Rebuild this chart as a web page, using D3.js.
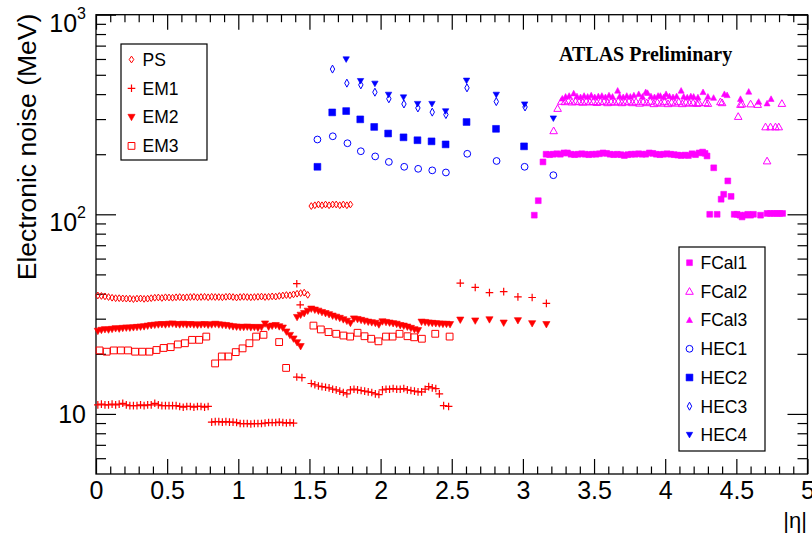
<!DOCTYPE html>
<html>
<head>
<meta charset="utf-8">
<script src="https://cdn.jsdelivr.net/npm/d3@7"></script>
<style>
  body { margin: 0; background: #fff; }
  svg { display: block; font-family: "Liberation Sans", Arial, sans-serif; }
</style>
</head>
<body>
<svg id="chart" width="812" height="537"></svg>
<script>
// axis ticks
const xMajorTicks = [0, 0.5, 1, 1.5, 2, 2.5, 3, 3.5, 4, 4.5, 5];
const xMinorTicks = [0.1,0.2,0.3,0.4,0.6,0.7,0.8,0.9,1.1,1.2,1.3,1.4,1.6,1.7,1.8,1.9,2.1,2.2,2.3,2.4,
  2.6,2.7,2.8,2.9,3.1,3.2,3.3,3.4,3.6,3.7,3.8,3.9,4.1,4.2,4.3,4.4,4.6,4.7,4.8,4.9];
const yMajorTicks = [10, 100, 1000];
const yMinorTicks = [6,7,8,9,20,30,40,50,60,70,80,90,200,300,400,500,600,700,800,900];

// noise per layer, [|eta|, MeV]
const psData = [
  [0.013,39.2],[0.038,39.0],[0.063,38.8],[0.088,38.5],[0.113,38.2],[0.138,38.0],[0.163,38.0],[0.188,37.9],
  [0.213,37.8],[0.238,37.8],[0.263,37.6],[0.288,37.8],[0.313,37.9],[0.338,37.7],[0.363,37.8],[0.388,38.0],
  [0.413,38.2],[0.438,38.3],[0.463,38.1],[0.488,38.4],[0.513,38.3],[0.538,38.2],[0.563,38.4],[0.588,38.5],
  [0.613,38.3],[0.638,38.4],[0.663,38.5],[0.688,38.6],[0.713,38.4],[0.738,38.5],[0.763,38.6],[0.788,38.4],
  [0.813,38.6],[0.838,38.5],[0.863,38.5],[0.888,38.4],[0.913,38.6],[0.938,38.7],[0.963,38.5],[0.988,38.3],
  [1.013,38.5],[1.038,38.6],[1.063,38.5],[1.088,38.4],[1.113,38.5],[1.138,38.6],[1.163,38.7],[1.188,38.5],
  [1.213,38.6],[1.238,38.8],[1.263,38.7],[1.288,39.0],[1.313,39.2],[1.338,39.4],[1.363,39.3],[1.388,39.7],
  [1.413,40.0],[1.438,40.3],[1.463,40.5],[1.488,39.5],
  [1.513,110],[1.538,111],[1.563,112],[1.588,111],[1.613,112],[1.638,111],[1.663,112],[1.688,112],
  [1.713,111],[1.738,112],[1.763,111],[1.788,112]
];

const em1Data = [
  [0.013,11.1],[0.038,11.2],[0.063,11.1],[0.088,11.1],[0.113,11.2],[0.138,11.1],[0.163,11.2],[0.188,11.3],
  [0.213,11.1],[0.238,11.0],[0.263,11.0],[0.288,11.0],[0.313,11.1],[0.338,11.0],[0.363,11.1],[0.388,11.1],
  [0.413,11.3],[0.438,11.1],[0.463,11.0],[0.488,11.0],[0.513,11.0],[0.538,11.0],[0.563,11.0],[0.588,10.9],
  [0.613,10.8],[0.638,10.9],[0.663,10.9],[0.688,10.8],[0.713,10.9],[0.738,10.9],[0.763,10.8],[0.788,10.9],
  [0.813,9.1],[0.838,9.15],[0.863,9.15],[0.888,9.1],[0.913,9.15],[0.938,9.1],[0.963,9.1],[0.988,9.05],
  [1.013,8.95],[1.038,8.95],[1.063,8.95],[1.088,8.9],[1.113,8.95],[1.138,8.95],[1.163,8.95],[1.188,9.0],
  [1.213,9.05],[1.238,9.05],[1.263,9.05],[1.288,9.1],[1.313,9.05],[1.338,9.0],[1.363,9.05],[1.388,9.0],
  [1.411,44.9],[1.435,35.2],[1.411,15.3],[1.447,15.2],
  [1.513,14.2],[1.538,14.0],[1.563,13.8],[1.588,13.7],[1.613,13.6],[1.638,13.5],[1.663,13.3],[1.688,13.2],
  [1.713,13.0],[1.738,12.8],[1.763,12.6],[1.788,13.2],[1.813,13.3],[1.838,13.2],[1.863,13.1],[1.888,13.0],
  [1.913,12.9],[1.938,12.8],[1.963,12.6],[1.988,12.5],[2.013,13.2],[2.038,13.3],[2.063,13.3],[2.088,13.4],
  [2.113,13.3],[2.138,13.3],[2.163,13.4],[2.188,13.2],[2.213,13.1],[2.238,13.0],[2.263,12.9],[2.288,12.9],
  [2.313,13.3],[2.338,13.7],[2.363,13.5],[2.388,13.4],[2.413,12.6],[2.443,11.0],[2.478,10.9],
  [2.56,45.2],[2.665,43.0],[2.765,40.5],[2.865,41.0],[2.965,38.6],[3.065,38.3],[3.165,35.8]
];

const em2Data = [
  [0.013,26.0],[0.038,26.3],[0.063,26.5],[0.088,26.4],[0.113,26.6],[0.138,26.8],[0.163,26.7],[0.188,26.9],
  [0.213,27.0],[0.238,27.0],[0.263,27.1],[0.288,27.2],[0.313,27.3],[0.338,27.4],[0.363,27.6],[0.388,27.8],
  [0.413,27.9],[0.438,28.0],[0.463,28.1],[0.488,28.0],[0.513,28.2],[0.538,28.3],[0.563,28.1],[0.588,28.0],
  [0.613,28.2],[0.638,28.0],[0.663,28.1],[0.688,28.0],[0.713,27.9],[0.738,28.0],[0.763,28.1],[0.788,27.9],
  [0.813,28.0],[0.838,28.2],[0.863,28.0],[0.888,27.9],[0.913,27.8],[0.938,27.6],[0.963,27.4],[0.988,27.3],
  [1.013,27.2],[1.038,27.2],[1.063,27.3],[1.088,27.1],[1.113,27.2],[1.138,27.0],[1.163,27.2],[1.188,28.3],
  [1.213,27.3],[1.238,27.6],[1.263,27.8],[1.288,27.4],[1.313,27.0],[1.338,25.8],[1.363,24.8],[1.388,23.8],
  [1.413,22.8],[1.438,21.8],
  [1.413,30.5],[1.438,31.3],[1.463,31.9],[1.488,32.8],[1.513,33.6],[1.538,33.2],[1.563,32.8],[1.588,32.3],
  [1.613,31.9],[1.638,31.5],[1.663,31.0],[1.688,30.6],[1.713,30.2],[1.738,29.7],[1.763,29.2],[1.788,28.5],
  [1.813,30.0],[1.838,29.8],[1.863,29.5],[1.888,29.2],[1.913,28.9],[1.938,28.7],[1.963,28.5],[1.988,28.0],
  [2.013,29.0],[2.038,28.8],[2.063,28.6],[2.088,28.4],[2.113,28.2],[2.138,27.8],[2.163,27.6],[2.188,27.3],
  [2.213,26.9],[2.238,26.5],[2.263,26.2],[2.288,28.9],[2.313,28.8],[2.338,28.6],[2.363,28.5],[2.388,28.4],
  [2.413,28.3],[2.438,28.2],[2.463,28.2],[2.488,28.1],
  [2.56,29.6],[2.665,29.3],[2.765,29.7],[2.865,28.6],[2.965,29.4],[3.065,28.4],[3.165,28.1]
];

const em3Data = [
  [0.025,20.8],[0.075,20.5],[0.125,20.8],[0.175,20.8],[0.225,20.8],[0.275,20.5],[0.325,20.5],[0.375,20.5],
  [0.425,20.9],[0.475,21.4],[0.525,21.6],[0.575,22.3],[0.625,22.6],[0.675,23.5],[0.725,23.5],[0.775,24.4],
  [0.837,17.9],[0.884,19.4],[0.93,19.4],[0.982,20.4],[1.03,21.3],[1.078,22.6],[1.125,24.4],[1.177,24.9],
  [1.287,22.9],[1.336,17.0],
  [1.528,27.7],[1.58,26.5],[1.634,25.7],[1.688,25.2],[1.739,24.7],[1.786,24.4],[1.838,25.5],[1.887,24.5],
  [1.934,23.8],[1.985,23.1],[2.038,24.4],[2.084,24.4],[2.133,25.2],[2.189,24.5],[2.236,24.2],[2.29,23.8],
  [2.384,25.2],[2.485,24.4]
];

const fcal1Data = [
  [3.08,99],[3.108,117],[3.141,183],
  [3.163,200],[3.188,199],[3.213,200],[3.238,201],[3.263,200],[3.288,203],[3.313,203],[3.338,200],
  [3.363,199],[3.388,200],[3.413,201],[3.438,200],[3.463,199],[3.488,200],[3.513,200],[3.538,201],
  [3.563,203],[3.588,202],[3.613,200],[3.638,199],[3.663,200],[3.688,199],[3.713,197],[3.738,199],
  [3.763,200],[3.788,200],[3.813,201],[3.838,200],[3.863,200],[3.888,203],[3.913,202],[3.938,200],
  [3.963,199],[3.988,200],[4.013,201],[4.038,200],[4.063,199],[4.088,198],[4.113,197],[4.138,198],
  [4.163,197],[4.188,201],[4.213,199],[4.238,203],
  [4.263,205],[4.28,202],[4.294,196],[4.313,100],[4.341,171],[4.365,100],[4.393,119],[4.411,126],
  [4.44,147],[4.463,123],[4.485,100],[4.505,100],[4.525,99],[4.54,97],[4.56,99],[4.58,100],
  [4.60,99],[4.62,100],[4.67,99],[4.716,101],[4.74,101],[4.762,101],[4.785,101],[4.805,101],[4.825,101]
];

const fcal2Data = [
  [3.216,262],[3.244,339],
  [3.27,368],[3.295,366],[3.32,370],[3.345,365],[3.37,368],[3.395,366],[3.42,364],[3.445,368],
  [3.47,365],[3.495,367],[3.52,363],[3.545,366],[3.57,368],[3.595,362],[3.62,366],[3.645,364],
  [3.67,368],[3.695,362],[3.72,365],[3.745,368],[3.77,362],[3.795,366],[3.82,360],[3.845,366],
  [3.87,362],[3.895,368],[3.92,358],[3.945,364],[3.97,360],[3.995,366],[4.02,358],[4.045,364],
  [4.07,360],[4.095,366],[4.12,358],[4.145,364],[4.17,360],[4.196,362],[4.224,359],[4.236,362],
  [4.283,362],[4.30,359],[4.388,366],[4.40,362],
  [4.513,309],[4.529,355],[4.54,357],[4.6,357],[4.65,355],[4.705,274],[4.716,185],[4.74,274],
  [4.775,274],[4.798,274],[4.82,359]
];

const fcal3Data = [
  [3.277,380],[3.30,388],[3.325,392],[3.357,403],[3.38,390],[3.405,386],[3.43,392],[3.455,388],
  [3.48,394],[3.505,386],[3.53,390],[3.555,392],[3.58,386],[3.605,394],[3.63,388],[3.666,416],
  [3.68,390],[3.705,386],[3.73,392],[3.755,388],[3.78,394],[3.814,400],[3.84,388],[3.863,409],
  [3.876,405],[3.9,390],[3.925,386],[3.95,392],[3.966,392],[3.99,386],[4.006,400],[4.03,390],
  [4.055,386],[4.08,390],[4.112,416],[4.13,388],[4.155,385],[4.18,390],[4.2,388],[4.23,385],
  [4.266,409],[4.30,388],[4.34,383],[4.416,400],[4.435,395],[4.529,378],[4.587,411],[4.657,366],
  [4.716,359],[4.744,378]
];

const hec1Data = [[1.556,237],[1.664,246],[1.767,227],[1.861,207],[1.962,195],[2.058,183],[2.166,173],
  [2.264,169],[2.363,166],[2.459,162],[2.609,201],[2.815,185],[3.012,173],[3.214,157]];
const hec2Data = [[1.556,173],[1.66,324],[1.758,329],[1.857,299],[1.955,274],[2.053,254],[2.161,243],
  [2.259,235],[2.358,232],[2.457,224],[2.604,290],[2.811,268],[3.008,219]];
const hec3Data = [[1.662,534],[1.763,454],[1.861,445],[1.96,409],[2.058,379],[2.164,357],[2.262,341],
  [2.363,325],[2.459,316],[2.607,430],[2.813,367],[3.015,345]];
const hec4Data = [[1.758,597],[1.859,465],[1.96,451],[2.056,397],[2.161,385],[2.26,357],[2.361,357],
  [2.457,328],[2.604,467],[2.813,397],[3.012,355],[3.214,302]];

// drawing style for each layer
const series = [
  { name: 'PS',    data: psData,    marker: 'diamond',  color: '#ff0000', legend: 1 },
  { name: 'EM1',   data: em1Data,   marker: 'plus',     color: '#ff0000', legend: 1 },
  { name: 'EM2',   data: em2Data,   marker: 'triDown',  color: '#ff0000', legend: 1 },
  { name: 'EM3',   data: em3Data,   marker: 'squareO',  color: '#ff0000', legend: 1 },
  { name: 'FCal1', data: fcal1Data, marker: 'squareS',  color: '#ff00ff', legend: 2 },
  { name: 'FCal2', data: fcal2Data, marker: 'triUpO',   color: '#ff00ff', legend: 2 },
  { name: 'FCal3', data: fcal3Data, marker: 'triUpS',   color: '#ff00ff', legend: 2 },
  { name: 'HEC1',  data: hec1Data,  marker: 'circle',   color: '#0000ff', legend: 2 },
  { name: 'HEC2',  data: hec2Data,  marker: 'squareF',  color: '#0000ff', legend: 2 },
  { name: 'HEC3',  data: hec3Data,  marker: 'diamondB', color: '#0000ff', legend: 2 },
  { name: 'HEC4',  data: hec4Data,  marker: 'triDownS', color: '#0000ff', legend: 2 }
];

const frame = { left: 96, right: 807.5, top: 14.7, bottom: 474 };

const x = d3.scaleLinear().domain([0, 5]).range([frame.left, frame.right]);
const y = d3.scaleLog().domain([5, 1000]).range([frame.bottom, frame.top]);

const svg = d3.select('#chart');

// marker shapes, centred on 0,0
function markerPath(type) {
  switch (type) {
    case 'diamond':  return 'M0,-3.4L2.3,0L0,3.4L-2.3,0Z';
    case 'diamondB': return 'M0,-4L2.2,0L0,4L-2.2,0Z';
    case 'plus':     return 'M-3.8,0H3.8M0,-3.8V3.8';
    case 'triDown':  return 'M-3.6,-2.8L3.6,-2.8L0,3.6Z';
    case 'triDownS': return 'M-3.2,-2.6L3.2,-2.6L0,3Z';
    case 'squareO':  return 'M-3.4,-3.4H3.4V3.4H-3.4Z';
    case 'squareF':  return 'M-3.4,-3.4H3.4V3.4H-3.4Z';
    case 'squareS':  return 'M-2.9,-2.9H2.9V2.9H-2.9Z';
    case 'triUpO':   return 'M0,-3.8L3.8,2.9L-3.8,2.9Z';
    case 'triUpS':   return 'M0,-3.2L3,2.4L-3,2.4Z';
  }
  return null;
}
const openMarkers = ['diamond', 'diamondB', 'squareO', 'triUpO', 'circle', 'plus'];

function drawMarker(g, s, cx, cy) {
  const open = openMarkers.includes(s.marker);
  let el;
  if (s.marker === 'circle') {
    el = g.append('circle').attr('cx', cx).attr('cy', cy).attr('r', 3.4);
  } else {
    el = g.append('path').attr('d', markerPath(s.marker))
      .attr('transform', `translate(${cx},${cy})`);
  }
  el.attr('fill', open ? 'none' : s.color)
    .attr('stroke', s.color)
    .attr('stroke-width', open ? (s.marker === 'plus' ? 1.2 : 1) : 0.6);
}

// frame
svg.append('rect')
  .attr('x', frame.left).attr('y', frame.top)
  .attr('width', frame.right - frame.left).attr('height', frame.bottom - frame.top)
  .attr('fill', 'none').attr('stroke', '#000').attr('stroke-width', 1.3);

function styleAxis(g) {
  g.select('.domain').remove();
  g.selectAll('line').attr('stroke-width', 1.2);
}

// x axes (bottom with labels, top mirrored)
svg.append('g').attr('transform', `translate(0,${frame.bottom})`)
  .call(d3.axisBottom(x).tickValues(xMajorTicks).tickSize(-15).tickPadding(7.5).tickFormat(d => String(d)))
  .call(styleAxis)
  .call(g => g.selectAll('text').attr('font-size', 25).attr('font-family', '"Liberation Sans", Arial, sans-serif').attr('fill', '#000'));
svg.append('g').attr('transform', `translate(0,${frame.bottom})`)
  .call(d3.axisBottom(x).tickValues(xMinorTicks).tickSize(-7.5).tickFormat(''))
  .call(styleAxis);
svg.append('g').attr('transform', `translate(0,${frame.top})`)
  .call(d3.axisTop(x).tickValues(xMajorTicks).tickSize(-15).tickFormat(''))
  .call(styleAxis);
svg.append('g').attr('transform', `translate(0,${frame.top})`)
  .call(d3.axisTop(x).tickValues(xMinorTicks).tickSize(-7.5).tickFormat(''))
  .call(styleAxis);

// y axes (log)
svg.append('g').attr('transform', `translate(${frame.left},0)`)
  .call(d3.axisLeft(y).tickValues(yMajorTicks).tickSize(-20).tickFormat(''))
  .call(styleAxis);
svg.append('g').attr('transform', `translate(${frame.left},0)`)
  .call(d3.axisLeft(y).tickValues(yMinorTicks).tickSize(-10).tickFormat(''))
  .call(styleAxis);
svg.append('g').attr('transform', `translate(${frame.right},0)`)
  .call(d3.axisRight(y).tickValues(yMajorTicks).tickSize(-20).tickFormat(''))
  .call(styleAxis);
svg.append('g').attr('transform', `translate(${frame.right},0)`)
  .call(d3.axisRight(y).tickValues(yMinorTicks).tickSize(-10).tickFormat(''))
  .call(styleAxis);

// y tick labels: 10, 10^2, 10^3
yMajorTicks.forEach(v => {
  const exp = Math.round(Math.log10(v));
  const t = svg.append('text').attr('x', 86).attr('text-anchor', 'end')
    .attr('font-size', 25).attr('fill', '#000');
  if (exp === 1) {
    t.attr('y', y(v) + 9).text('10');
  } else {
    t.attr('y', y(v) + 17);
    t.append('tspan').text('10');
    t.append('tspan').attr('font-size', 16).attr('dy', -13).text(exp);
  }
});

// axis titles
svg.append('text')
  .attr('transform', `translate(36,${frame.top - 1}) rotate(-90)`)
  .attr('text-anchor', 'end').attr('font-size', 26.5).attr('fill', '#000')
  .text('Electronic noise (MeV)');
svg.append('text')
  .attr('x', 807).attr('y', 528).attr('text-anchor', 'end')
  .attr('font-size', 22).attr('fill', '#000')
  .text('|η|');

// data markers
const plot = svg.append('g');
series.forEach(s => {
  const g = plot.append('g').attr('class', s.name);
  s.data.forEach(d => drawMarker(g, s, x(d[0]), y(d[1])));
});

// ATLAS label
svg.append('text')
  .attr('x', 559).attr('y', 61)
  .attr('font-family', '"Liberation Serif", "Times New Roman", serif')
  .attr('font-weight', 'bold').attr('font-size', 20).attr('fill', '#000')
  .text('ATLAS Preliminary');

// legends
function drawLegend(which, box, firstY, step) {
  const g = svg.append('g');
  g.append('rect').attr('x', box.x).attr('y', box.y).attr('width', box.w).attr('height', box.h)
    .attr('fill', '#fff').attr('stroke', '#000').attr('stroke-width', 1.2);
  series.filter(s => s.legend === which).forEach((s, i) => {
    const cy = firstY + i * step;
    drawMarker(g, s, box.x + 10.5, cy);
    g.append('text').attr('x', box.x + 21.5).attr('y', cy + 6.3)
      .attr('font-size', 17.5).attr('fill', '#000').text(s.name);
  });
}
drawLegend(1, { x: 121, y: 44, w: 86, h: 116 }, 59.5, 28.8);
drawLegend(2, { x: 679, y: 247, w: 86, h: 204 }, 262.7, 28.7);
</script>
</body>
</html>
